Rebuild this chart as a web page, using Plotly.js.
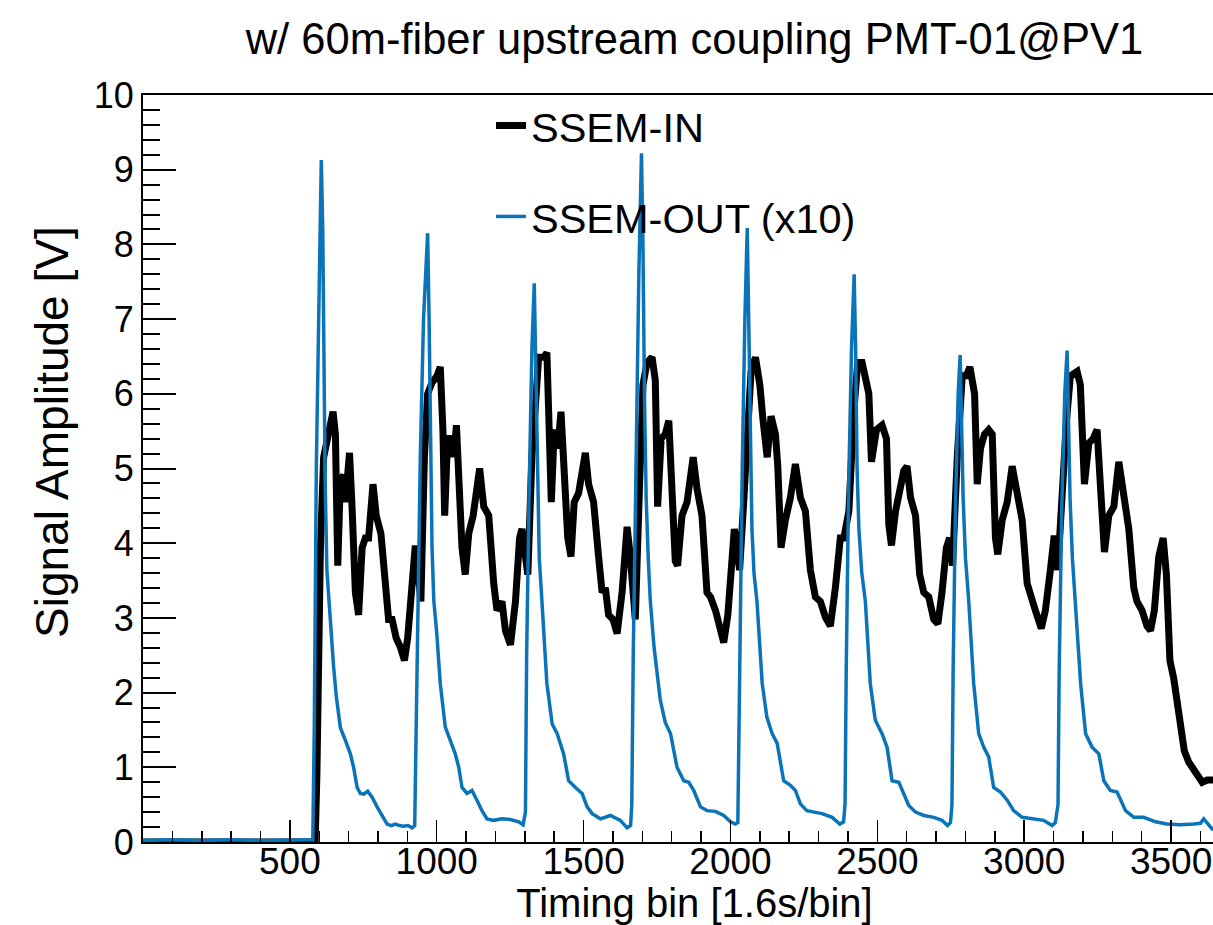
<!DOCTYPE html>
<html><head><meta charset="utf-8">
<script src="https://cdn.plot.ly/plotly-3.0.1.min.js"></script>
<style>html,body{margin:0;padding:0;overflow:hidden;background:#fff}</style>
</head><body>
<div id="chart" style="width:1290px;height:925px"></div>
<script>
// SSEM-IN (black)
const inX = [0,586,592,598,604,615,626,635,647,655,663,672,683,689,703,711,723,734,746,757,768,783,794,810,825,836,848,862,876,890,901,912,927,936,946,958,969,984,1001,1012,1021,1027,1037,1052,1058,1067,1075,1086,1097,1109,1124,1146,1160,1177,1194,1205,1222,1234,1251,1268,1282,1290,1298,1310,1324,1339,1347,1364,1375,1381,1390,1400,1412,1423,1432,1446,1457,1468,1483,1506,1517,1534,1551,1563,1574,1585,1600,1614,1631,1648,1659,1676,1691,1702,1716,1733,1744,1752,1764,1778,1790,1801,1812,1820,1835,1852,1873,1886,1903,1920,1932,1949,1963,1977,1991,2005,2013,2022,2031,2045,2059,2070,2085,2100,2111,2125,2138,2153,2161,2172,2187,2204,2221,2238,2255,2272,2289,2306,2323,2340,2357,2374,2386,2403,2420,2433,2448,2465,2471,2480,2497,2516,2531,2539,2548,2562,2576,2590,2601,2613,2630,2644,2658,2675,2692,2706,2720,2735,2746,2756,2772,2789,2803,2815,2831,2840,2851,2865,2879,2891,2902,2910,2925,2942,2959,2976,2993,3010,3027,3038,3058,3072,3089,3102,3114,3129,3144,3157,3180,3191,3205,3220,3235,3248,3257,3265,3273,3288,3305,3322,3339,3356,3373,3384,3401,3418,3430,3443,3458,3473,3484,3496,3509,3521,3532,3545,3560,3575,3589,3606,3623,3643];
const inY = [0,0,0.9,2.7,3.94,5.15,5.4,5.52,5.76,5.46,3.70,4.85,4.91,4.55,5.21,4.55,3.34,3.04,3.94,4.07,4.07,4.79,4.37,4.13,3.34,2.98,2.98,2.73,2.61,2.43,2.73,3.34,3.97,3.64,3.22,5.15,6.0,6.15,6.24,6.36,5.52,4.37,5.4,5.4,5.15,5.58,4.85,3.94,3.58,4.13,4.37,5.0,4.49,4.37,3.46,3.10,3.22,2.83,2.64,3.22,4.07,4.19,3.94,3.58,5.15,6.24,6.49,6.49,6.55,5.76,4.55,5.52,5.27,5.76,5.03,4.07,3.82,4.55,4.67,5.21,4.79,4.55,3.82,3.34,3.40,3.04,2.98,2.79,3.34,4.22,3.82,2.98,4.85,6.12,6.42,6.49,6.18,4.49,5.40,5.46,5.64,4.85,3.76,3.70,4.37,4.55,5.15,4.73,4.37,3.34,3.28,3.10,2.86,2.67,3.04,3.76,4.19,3.94,3.64,4.55,5.76,6.30,6.49,6.12,5.64,5.15,5.70,5.46,5.03,3.94,4.31,4.61,5.06,4.61,4.43,3.64,3.28,3.22,3.01,2.89,3.40,4.07,4.07,4.43,5.76,6.42,6.42,6.12,6.0,5.09,5.52,5.58,5.40,4.25,3.97,4.43,4.67,4.97,5.03,4.61,4.37,3.58,3.34,3.28,2.98,2.92,3.34,3.94,4.07,3.70,5.15,6.24,6.24,6.36,6.0,4.79,5.27,5.46,5.52,5.46,4.07,3.85,4.31,4.55,5.03,4.61,4.31,3.46,3.28,3.10,2.86,3.10,3.64,4.10,3.64,4.85,5.64,6.24,6.30,6.12,4.79,5.34,5.40,5.52,4.85,4.07,3.88,4.37,4.49,5.09,4.55,4.19,3.40,3.22,3.10,2.89,2.83,3.10,3.82,4.07,3.58,2.43,2.19,1.83,1.46,1.22,1.07,0.98,0.89,0.80,0.83,0.83];

// SSEM-OUT (x10) (blue)
const outX = [0,100,200,300,400,500,578,583,590,598,607,612,615,620,626,636,649,658,666,672,689,706,717,729,740,752,765,780,797,814,831,845,859,873,887,902,916,925,933,944,955,969,974,979,984,990,1000,1012,1029,1046,1063,1075,1086,1103,1120,1137,1154,1171,1194,1222,1251,1279,1294,1302,1306,1315,1324,1332,1337,1342,1349,1358,1375,1393,1410,1432,1449,1472,1495,1512,1529,1557,1591,1625,1648,1660,1664,1669,1678,1688,1697,1702,1707,1713,1720,1727,1740,1761,1778,1796,1818,1841,1858,1875,1898,1920,1949,1977,2000,2017,2025,2031,2040,2049,2057,2062,2067,2073,2080,2090,2108,2124,2142,2159,2181,2204,2221,2238,2260,2283,2312,2346,2372,2385,2390,2394,2402,2412,2421,2426,2431,2437,2447,2459,2476,2493,2516,2533,2550,2573,2590,2607,2630,2658,2692,2720,2739,2749,2754,2758,2766,2775,2782,2787,2792,2800,2811,2828,2845,2862,2879,2896,2919,2942,2964,2993,3032,3066,3095,3106,3115,3119,3128,3138,3146,3151,3156,3164,3174,3192,3209,3231,3254,3271,3293,3316,3345,3373,3407,3447,3486,3531,3577,3600,3611,3628,3643];
const outY = [0.02,0.03,0.02,0.03,0.02,0.03,0.03,1.5,5.0,6.97,9.13,8.18,6.36,4.85,3.64,3.04,2.34,1.95,1.67,1.53,1.36,1.18,1.0,0.73,0.65,0.64,0.68,0.60,0.47,0.355,0.24,0.22,0.24,0.22,0.21,0.22,0.19,0.22,2.1,5.15,7.0,8.15,7.0,5.15,3.94,3.23,2.8,2.12,1.54,1.36,1.18,1.0,0.73,0.65,0.69,0.56,0.42,0.31,0.29,0.31,0.30,0.27,0.23,0.4,2.5,4.8,6.6,7.48,6.4,4.8,3.8,3.23,2.12,1.58,1.45,1.18,0.82,0.73,0.65,0.47,0.38,0.31,0.355,0.29,0.19,0.22,0.5,2.5,5.2,7.6,9.22,8.0,6.0,4.6,3.8,3.23,2.6,1.9,1.6,1.45,1.0,0.82,0.80,0.69,0.47,0.42,0.41,0.355,0.27,0.24,0.26,2.5,5.0,7.0,8.22,7.0,5.3,4.2,3.6,3.23,2.12,1.67,1.45,1.32,0.82,0.76,0.69,0.51,0.42,0.40,0.38,0.33,0.24,0.27,0.5,2.3,4.7,6.6,7.6,6.6,5.0,4.2,3.6,3.23,2.12,1.63,1.45,1.27,0.82,0.80,0.65,0.49,0.40,0.355,0.33,0.29,0.22,0.26,0.5,2.3,4.5,6.0,6.52,5.7,4.6,3.8,3.23,2.12,1.45,1.27,1.14,0.73,0.67,0.56,0.42,0.33,0.31,0.29,0.22,0.26,0.5,2.3,4.5,6.0,6.58,5.7,4.6,3.8,3.23,2.12,1.45,1.27,1.18,0.82,0.69,0.67,0.42,0.33,0.33,0.27,0.24,0.23,0.24,0.25,0.31,0.22,0.16];

const xTickVals = [0,500,1000,1500,2000,2500,3000,3500];
const xTickText = ['','500','1000','1500','2000','2500','3000','3500'];
const yTickVals = [0,1,2,3,4,5,6,7,8,9,10];
const yTickText = ['0','1','2','3','4','5','6','7','8','9','10'];

const FONT = '"Liberation Sans", Arial, Helvetica, sans-serif';

const traces = [
  {x: inX, y: inY, type: 'scatter', mode: 'lines', name: 'SSEM-IN',
   legendgroup: 'a', line: {color: '#000000', width: 7}},
  {x: outX, y: outY, type: 'scatter', mode: 'lines', name: 'SSEM-OUT (x10)',
   legendgroup: 'b', line: {color: '#0b74b9', width: 3.5}}
];

const layout = {
  width: 1290, height: 925,
  margin: {l: 143, r: 44, t: 95, b: 83},
  paper_bgcolor: '#ffffff', plot_bgcolor: '#ffffff',
  font: {family: FONT, color: '#000000'},
  showlegend: true,
  title: {text: 'w/ 60m-fiber upstream coupling PMT-01@PV1', font: {size: 43.5, family: FONT, color: '#000'},
          xref: 'paper', x: 0.5, xanchor: 'center', yref: 'container', y: 1 - 39/925, yanchor: 'middle'},
  xaxis: {
    range: [0, 3755], showgrid: false, zeroline: false,
    showline: true, linecolor: '#000', linewidth: 2, mirror: true,
    tickmode: 'array', tickvals: xTickVals, ticktext: xTickText,
    ticks: 'inside', ticklen: 22, tickwidth: 1.5, tickcolor: '#000',
    minor: {ticks: 'inside', ticklen: 11, tickwidth: 1.5, tickcolor: '#000', tickmode: 'linear', tick0: 0, dtick: 100, showgrid: false},
    tickfont: {size: 37, family: FONT, color: '#000'},
    ticklabelstandoff: -14,
    title: {text: 'Timing bin [1.6s/bin]', font: {size: 40, family: FONT, color: '#000'}, standoff: 14}
  },
  yaxis: {
    range: [0, 10], showgrid: false, zeroline: false,
    showline: true, linecolor: '#000', linewidth: 2,
    tickmode: 'array', tickvals: yTickVals, ticktext: yTickText,
    ticks: 'inside', ticklen: 33, tickwidth: 2, tickcolor: '#000',
    minor: {ticks: 'inside', ticklen: 17, tickwidth: 2, tickcolor: '#000', tickmode: 'linear', tick0: 0, dtick: 0.2, showgrid: false},
    tickfont: {size: 36, family: FONT, color: '#000'}
  },
  annotations: [
    {text: 'Signal Amplitude [V]', textangle: -90, xref: 'paper', yref: 'paper',
     x: (52 - 143) / 1103, y: (842 - 432) / 747, xanchor: 'center', yanchor: 'middle',
     showarrow: false, font: {size: 46, family: FONT, color: '#000'}}
  ],
  legend: {
    x: (491 - 143) / 1103, y: (842 - 92) / 747, xanchor: 'left', yanchor: 'top',
    bgcolor: 'rgba(0,0,0,0)', borderwidth: 0,
    font: {size: 41.5, family: FONT, color: '#000'},
    traceorder: 'grouped', tracegroupgap: 34
  }
};

Plotly.newPlot('chart', traces, layout, {displayModeBar: false, staticPlot: true});
</script>
</body></html>
